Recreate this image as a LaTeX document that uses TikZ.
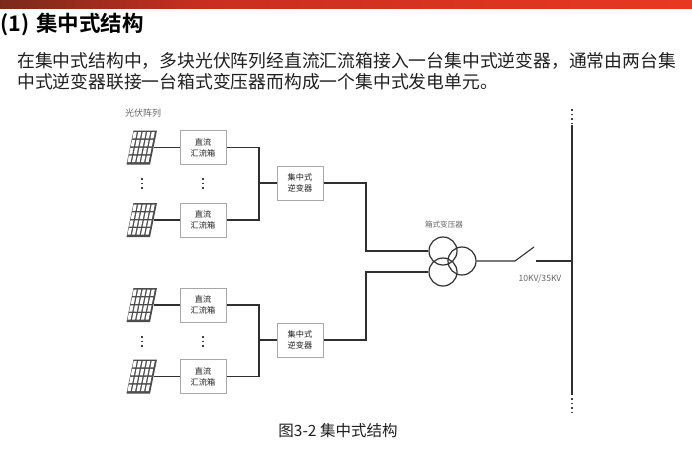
\documentclass[tikz,border=0pt]{standalone}
\usepackage{fontspec}
\setmainfont{Noto Sans CJK SC}
\newfontfamily\boldcjk{Noto Sans CJK SC Bold}
\definecolor{boxline}{HTML}{A8A8A8}
\definecolor{wire}{HTML}{303030}
\definecolor{txt}{HTML}{202020}
\definecolor{barA}{HTML}{7A2A1C}
\definecolor{barB}{HTML}{C82E20}
\definecolor{barC}{HTML}{E83822}
\usetikzlibrary{calc}
\tikzset{
  x=1pt,y=-1pt,
  box/.style={draw=boxline,line width=1pt,fill=white,minimum width=46pt,minimum height=34pt,inner sep=0pt,align=center,font=\fontsize{8.2}{11}\selectfont,text=txt},
  wireline/.style={draw=wire,line width=1.1pt},
  heavy/.style={draw=wire,line width=1.6pt},
  tiny/.style={font=\fontsize{7.6}{9}\selectfont,text=black!60,inner sep=0pt},
  pv/.style={minimum width=24pt,minimum height=34pt,inner sep=0pt},
  coil/.style={circle,draw=wire,line width=1.2pt,minimum size=28pt,inner sep=0pt},
  vdots/.style={draw=black!75,line width=1.6pt,dash pattern=on 1.6pt off 3pt},
}
\newcommand{\pvpanel}[1]{%
  \fill[white!30!black] ($(#1)+(-8.5,-17)$) -- ($(#1)+(15,-17)$) -- ($(#1)+(8,17)$) -- ($(#1)+(-15.5,17)$) -- cycle;
  \foreach \r in {0,1,2,3}{\foreach \c in {0,1,2,3,4}{
    \pgfmathsetmacro{\ya}{-15.5+\r*7.9}
    \pgfmathsetmacro{\yb}{\ya+6.4}
    \pgfmathsetmacro{\xa}{-8+\c*4.5-(\ya+17)*7/34}
    \pgfmathsetmacro{\xb}{\xa+3.1}
    \pgfmathsetmacro{\dd}{(\yb-\ya)*7/34}
    \fill[white] ($(#1)+(\xa,\ya)$) -- ($(#1)+(\xb,\ya)$) -- ($(#1)+(\xb-\dd,\yb)$) -- ($(#1)+(\xa-\dd,\yb)$) -- cycle;
  }}%
}
\begin{document}
\begin{tikzpicture}
\useasboundingbox (0,0) rectangle (692,455);
\fill[white] (0,0) rectangle (692,455);
\shade[left color=barA,right color=barB] (0,0) rectangle (200,8);
\shade[left color=barB,right color=barC] (200,0) rectangle (692,8);
\node[anchor=west,inner sep=0pt,font=\boldcjk\fontsize{21.5}{24}\selectfont] (title) at (0,24) {(1)\kern 7pt 集中式结构};
\node[anchor=west,inner sep=0pt,text=txt,font=\fontsize{17.8}{20}\selectfont] (line1) at (17,61) {在集中式结构中，多块光伏阵列经直流汇流箱接入一台集中式逆变器，通常由两台集};
\node[anchor=west,inner sep=0pt,text=txt,font=\fontsize{17.8}{20}\selectfont] (line2) at (17,82) {中式逆变器联接一台箱式变压器而构成一个集中式发电单元。};

\node[tiny,font=\fontsize{9}{10}\selectfont] (pvlabel) at (143,113) {光伏阵列};

% PV panels
\node[pv] (p1) at (142,147.5) {}; \pvpanel{p1}
\node[pv] (p2) at (142,220) {}; \pvpanel{p2}
\node[pv] (p3) at (142,305) {}; \pvpanel{p3}
\node[pv] (p4) at (142,376.5) {}; \pvpanel{p4}

% combiner boxes
\node[box] (c1) at (203,147.5) {直流\\汇流箱};
\node[box] (c2) at (203,220) {直流\\汇流箱};
\node[box] (c3) at (203,305) {直流\\汇流箱};
\node[box] (c4) at (203,376.5) {直流\\汇流箱};
% inverters
\node[box] (i1) at (300,183) {集中式\\逆变器};
\node[box] (i2) at (300,340) {集中式\\逆变器};

% dots
\draw[vdots] (142,178) -- (142,190);
\draw[vdots] (203,178) -- (203,190);
\draw[vdots] (142,336) -- (142,348);
\draw[vdots] (203,336) -- (203,348);

% transformer
\node[coil] (t1) at (443,251) {};
\node[coil] (t2) at (443,272) {};
\node[coil] (t3) at (462,261) {};
\node[tiny] (tlabel) at (444,225) {箱式变压器};

% bus and switch
\coordinate (bustop) at (572,125);
\coordinate (busbot) at (572,395);
\coordinate (busjoin) at (572,261);
\coordinate (swa) at (515,261);
\coordinate (swb) at (534,247);
\coordinate (swc) at (536,261);
\draw[heavy] (bustop) -- (busbot);
\draw[vdots] (572,109) -- (572,123);
\draw[vdots] (572,398) -- (572,412);
\draw[wireline] (t3.east) -- (swa) -- (swb);
\draw[wireline] (swc) -- (busjoin);
\node[tiny,font=\fontsize{8.6}{10}\selectfont] (vlabel) at (540,279) {10KV/35KV};

% wires
\coordinate (b1) at (259,183);
\coordinate (b2) at (259,340);
\coordinate (j1) at (366,251);
\coordinate (j2) at (366,272);
\draw[wireline] (p1.east) -- (c1.west);
\draw[wireline] (p2.east) -- (c2.west);
\draw[wireline] (p3.east) -- (c3.west);
\draw[wireline] (p4.east) -- (c4.west);
\draw[heavy] (c1.east) -| (b1) |- (c2.east);
\draw[heavy] (c3.east) -| (b2) |- (c4.east);
\draw[wireline] (b1) -- (i1.west);
\draw[wireline] (b2) -- (i2.west);
\draw[wireline] (i1.east) -| (j1) -- (t1.west);
\draw[wireline] (i2.east) -| (j2) -- (t2.west);

\node[inner sep=0pt,text=txt,font=\fontsize{15.5}{18}\selectfont] (caption) at (338,431) {图3-2 集中式结构};
\end{tikzpicture}
\end{document}
